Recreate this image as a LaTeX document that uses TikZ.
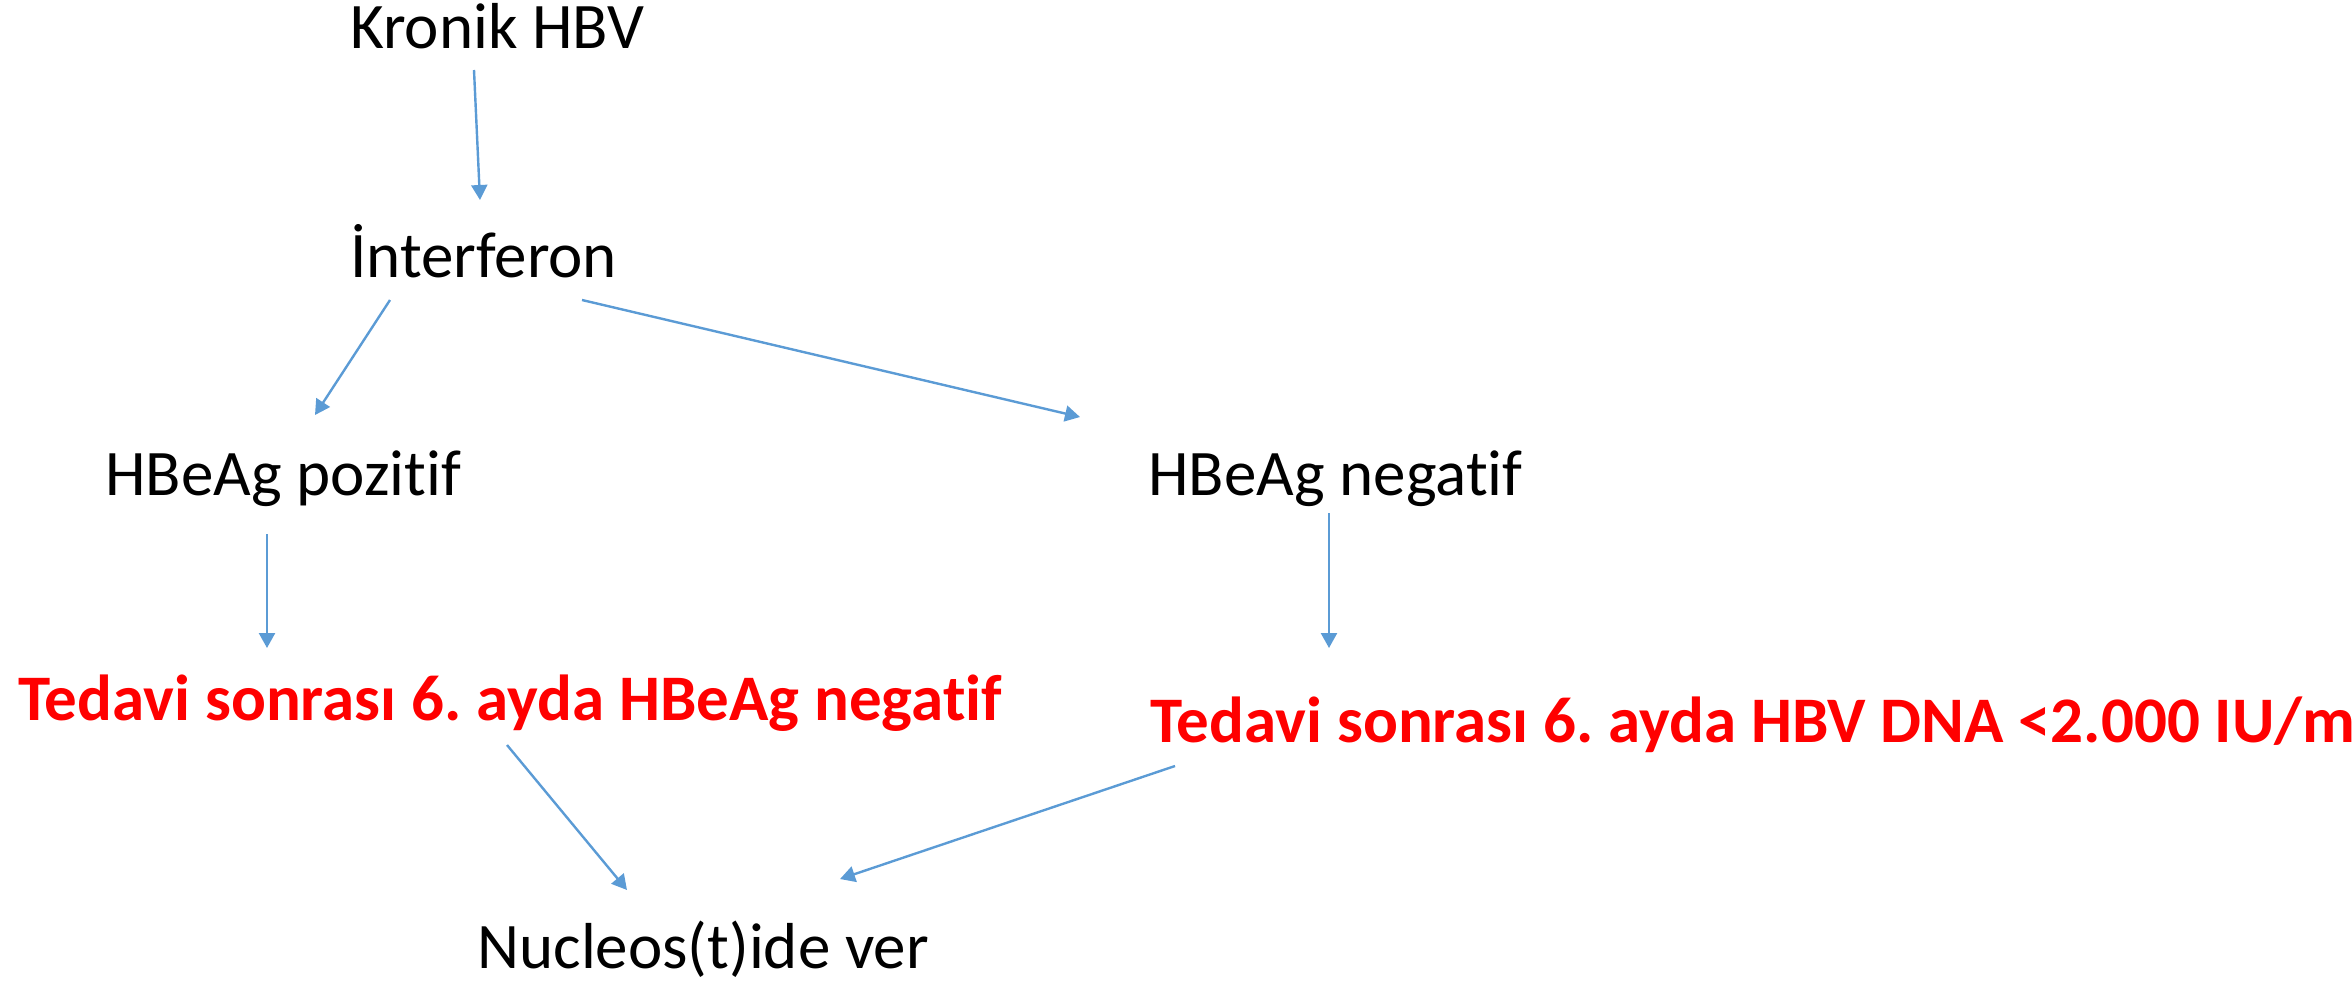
\documentclass[tikz,border=0pt]{standalone}
\usepackage{fontspec}
\setmainfont{Carlito}[Ligatures=NoCommon]
\usepackage{tikz}
\usetikzlibrary{positioning,calc,arrows.meta}
\definecolor{arrowblue}{HTML}{5B9BD5}
\definecolor{redtext}{HTML}{FF0000}
\frenchspacing
\tikzset{
  lbl/.style={anchor=base west, inner sep=0pt, font=\fontsize{32.5}{39}\selectfont},
  redlbl/.style={lbl, text=redtext, font=\fontsize{32.5}{39}\selectfont\bfseries},
  arr/.style={draw=arrowblue, line width=1.2pt, -{Triangle[length=7.5pt,width=8pt]}}
}

\begin{document}
\begin{tikzpicture}[x=0.5pt,y=-0.5pt]
	\useasboundingbox (0,0) rectangle (2352,987);
	\node[lbl] (kronik) at (350,48){Kronik HBV};
	\node[lbl] (interferon) at (350,277){İnterferon};
	\node[lbl] (pozitif) at (105,495){HBeAg pozitif};
	\node[lbl] (negatif) at (1148,495){HBeAg negatif};
	\node[redlbl] (sixpoz) at (18,720){Tedavi sonrası 6. ayda HBeAg negatif};
	\node[redlbl] (sixneg) at (1150,742){Tedavi sonrası 6. ayda HBV DNA <2.000 IU/ml};
	\node[lbl] (nucleos) at (477,968){Nucleos(t)ide ver};

		\draw[arr] ($(kronik.base west)+(124,22)$) -- ($(interferon.base west)+(130,-77)$);
		\draw[arr] ($(interferon.base west)+(40,23)$) -- ($(pozitif.base west)+(210,-80)$);
		\draw[arr] ($(interferon.base west)+(232,23)$) -- ($(negatif.base west)+(-68,-78)$);
		\draw[arr] ($(pozitif.base west)+(162,39)$) -- ($(sixpoz.base west)+(249,-72)$);
		\draw[arr] ($(negatif.base west)+(181,18)$) -- ($(sixneg.base west)+(179,-94)$);
		\draw[arr] ($(sixpoz.base west)+(489,25)$) -- ($(nucleos.base west)+(150,-78)$);
		\draw[arr] ($(sixneg.base west)+(25,24)$) -- ($(nucleos.base west)+(363,-89)$);

\end{tikzpicture}
\end{document}
